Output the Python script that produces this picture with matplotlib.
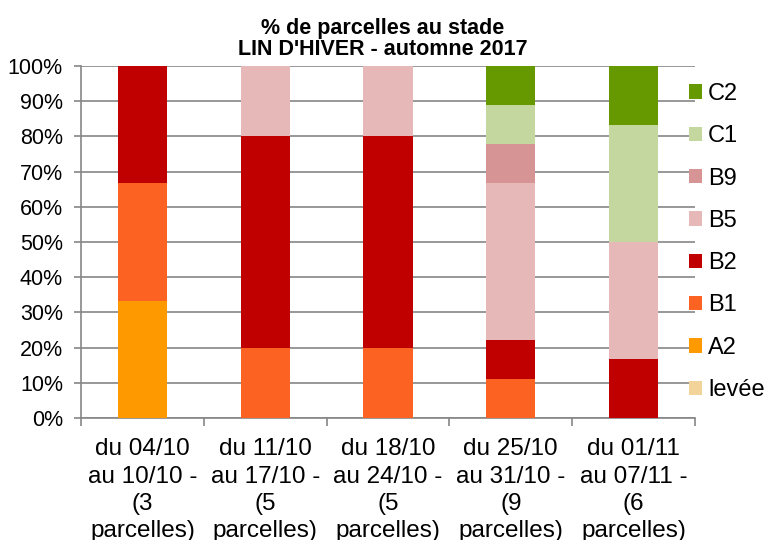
import matplotlib.pyplot as plt
import numpy as np

plt.rcParams['font.family'] = ['Liberation Sans', 'DejaVu Sans']

categories = ['du 04/10\nau 10/10 -\n(3\nparcelles)',
              'du 11/10\nau 17/10 -\n(5\nparcelles)',
              'du 18/10\nau 24/10 -\n(5\nparcelles)',
              'du 25/10\nau 31/10 -\n(9\nparcelles)',
              'du 01/11\nau 07/11 -\n(6\nparcelles)']

# share of parcels per stage (%)
levee = [0, 0, 0, 0, 0]
a2 = [33.33, 0, 0, 0, 0]
b1 = [33.33, 20, 20, 11.11, 0]
b2 = [33.34, 60, 60, 11.11, 16.67]
b5 = [0, 20, 20, 44.45, 33.33]
b9 = [0, 0, 0, 11.11, 0]
c1 = [0, 0, 0, 11.11, 33.33]
c2 = [0, 0, 0, 11.11, 16.67]

series = [('levée', levee, '#f2d39a'),
          ('A2', a2, '#ff9900'),
          ('B1', b1, '#fc6221'),
          ('B2', b2, '#c00000'),
          ('B5', b5, '#e6b9b8'),
          ('B9', b9, '#d69494'),
          ('C1', c1, '#c4d79f'),
          ('C2', c2, '#669900')]

fig = plt.figure(figsize=(7.65, 5.4), dpi=100)
ax = fig.add_axes([81 / 765, 1 - 418 / 540, 614 / 765, 352 / 540])

x = np.arange(len(categories))
bottom = np.zeros(len(categories))
for name, vals, col in series:
    ax.bar(x, vals, 0.4, bottom=bottom, color=col, label=name, zorder=3)
    bottom += np.array(vals)

ax.set_xlim(-0.5, 4.5)
ax.set_ylim(0, 100)
ax.set_yticks(np.arange(0, 101, 10))
ax.set_yticklabels([f'{v}%' for v in range(0, 101, 10)], fontsize=15.5)
ax.yaxis.grid(True, color='#868686', linewidth=1.2, zorder=0)
ax.tick_params(axis='y', length=5, width=1.2, color='#868686', pad=8)

ax.set_xticks(x)
ax.set_xticklabels(categories, fontsize=17.5, linespacing=1.32)
ax.set_xticks(np.arange(-0.5, 5, 1), minor=True)
ax.tick_params(axis='x', which='major', length=0, pad=14.5)
ax.tick_params(axis='x', which='minor', length=6, width=1.2, color='#868686')

for s in ['top', 'right']:
    ax.spines[s].set_visible(False)
for s in ['left', 'bottom']:
    ax.spines[s].set_color('#868686')
    ax.spines[s].set_linewidth(1.2)

fig.suptitle("% de parcelles au stade\nLIN D'HIVER - automne 2017",
             fontsize=15.5, fontweight='bold', x=0.5, y=0.966, linespacing=0.95)

handles, labels = ax.get_legend_handles_labels()
fig.legend(handles[::-1], labels[::-1], loc='center left',
           bbox_to_anchor=(689 / 765, 1 - 242 / 540), frameon=False, fontsize=17,
           handlelength=0.55, handleheight=0.55, handletextpad=0.25,
           labelspacing=0.86, borderpad=0, borderaxespad=0)

plt.savefig('out.png', dpi=100)
